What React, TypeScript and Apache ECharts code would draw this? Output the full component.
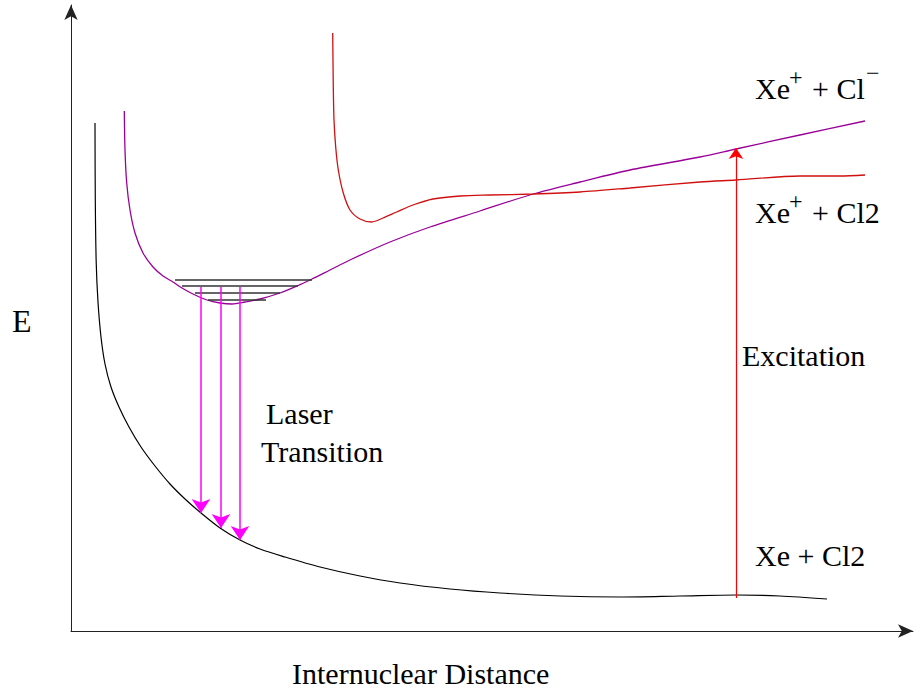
import React, { useEffect, useRef } from "react";
import * as echarts from "echarts";

// Values (arbitrary units: x = internuclear distance, y = energy)
const groundCurve: [number, number][] = [
  [24, 508], [24.3, 431], [25.2, 369], [27, 329], [30, 294], [34, 267], [40, 244],
  [48, 224], [58, 204], [70, 184], [84, 165], [99, 147], [114, 132], [130, 118],
  [149, 103], [169, 91], [189, 82], [214, 74], [249, 64], [289, 55], [329, 48],
  [379, 42], [429, 38], [489, 35], [549, 34], [609, 35], [665, 36], [709, 35], [756, 32],
];
const ionicCurve: [number, number][] = [
  [53.3, 520], [54, 481], [55.7, 448], [59, 421], [64, 398], [72, 378], [82, 364],
  [92, 355], [102, 349], [111, 343], [122, 337], [136, 331], [149, 328], [161, 327],
  [174, 329], [189, 332], [209, 338], [226, 345], [241, 352], [259, 361], [281, 372],
  [319, 389], [359, 404], [409, 420], [462, 437], [509, 449], [559, 461], [629, 474],
  [665, 482], [729, 496], [794, 510],
];
const excitedCurve: [number, number][] = [
  [261.7, 598], [262.3, 544], [263, 511], [264.7, 484], [267.3, 461], [272.3, 438],
  [279, 421], [289, 412], [300.7, 409], [312, 413], [325.7, 419], [342, 426],
  [362, 432], [389, 435], [419, 436], [462, 437], [509, 439], [559, 443], [629, 449],
  [665, 451], [729, 455], [769, 455], [794, 456],
];
// vibrational levels: [xStart, xEnd, energy]
const levels: [number, number, number][] = [
  [104, 241, 351], [111, 227, 345], [124, 209, 338], [137, 195, 331],
];
// laser transitions: [x, fromEnergy, toEnergy]
const laserTransitions: [number, number, number][] = [
  [130, 344, 118], [150, 344, 103], [169, 344, 91],
];
const excitation: [number, number, number] = [665, 33, 483];

const SERIF = '"Liberation Serif", "Times New Roman", serif';

export default function App() {
  const ref = useRef<HTMLDivElement>(null);
  useEffect(() => {
    document.body.style.margin = "0";
    const chart = echarts.init(ref.current!, undefined, { renderer: "svg" });
    const levelSeries = levels.map((l) => ({
      type: "line",
      data: [[l[0], l[2]], [l[1], l[2]]],
      showSymbol: false,
      lineStyle: { color: "#333", width: 1.5 },
      silent: true,
      z: 3,
    }));
    const curve = (data: [number, number][], color: string, width: number) => ({
      type: "line",
      data,
      smooth: 0.3,
      showSymbol: false,
      lineStyle: { color, width },
    });
    const txt = (text: string, x: number, y: number, size = 30, extra: any = {}) => ({
      type: "text",
      x,
      y,
      style: { text, fontFamily: SERIF, fontSize: size, fill: "#000", verticalAlign: "middle", ...extra },
    });
    chart.setOption({
      animation: false,
      grid: { left: 71, right: 1, top: 5, bottom: 62 },
      xAxis: {
        type: "value", min: 0, max: 842,
        axisLine: { show: true, symbol: ["none", "arrow"], symbolSize: [10, 15], lineStyle: { color: "#222", width: 1 } },
        axisTick: { show: false }, axisLabel: { show: false }, splitLine: { show: false },
      },
      yAxis: {
        type: "value", min: 0, max: 626,
        axisLine: { show: true, symbol: ["none", "arrow"], symbolSize: [10, 15], lineStyle: { color: "#222", width: 1 } },
        axisTick: { show: false }, axisLabel: { show: false }, splitLine: { show: false },
      },
      series: [
        curve(groundCurve, "#000", 1.2),
        curve(ionicCurve, "#990099", 1.3),
        curve(excitedCurve, "#d01010", 1.3),
        ...levelSeries,
        {
          type: "lines",
          coordinateSystem: "cartesian2d",
          data: laserTransitions.map((t) => ({ coords: [[t[0], t[1]], [t[0], t[2]]] })),
          symbol: ["none", "arrow"],
          symbolSize: [10, 14],
          lineStyle: { color: "#ff00ff", width: 1.5, opacity: 1 },
          z: 4,
        },
        {
          type: "lines",
          coordinateSystem: "cartesian2d",
          data: [{ coords: [[excitation[0], excitation[1]], [excitation[0], excitation[2]]] }],
          symbol: ["none", "arrow"],
          symbolSize: [9, 11],
          lineStyle: { color: "#ff0000", width: 1.2, opacity: 1 },
          z: 4,
        },
      ],
      graphic: [
        txt("E", 12, 321, 32),
        txt("Laser", 266, 413),
        txt("Transition", 261, 451),
        txt("Internuclear Distance", 292, 673),
        txt("Excitation", 742, 355),
        txt("Xe", 755, 88),
        txt("+", 789, 77, 24),
        txt("+ Cl", 812, 88),
        txt("\u2212", 866, 73, 24),
        txt("Xe", 755, 212),
        txt("+", 789, 201, 24),
        txt("+ Cl2", 812, 212),
        txt("Xe + Cl2", 755, 555),
      ],
    });
    return () => chart.dispose();
  }, []);
  return <div ref={ref} style={{ width: 914, height: 693 }} />;
}
